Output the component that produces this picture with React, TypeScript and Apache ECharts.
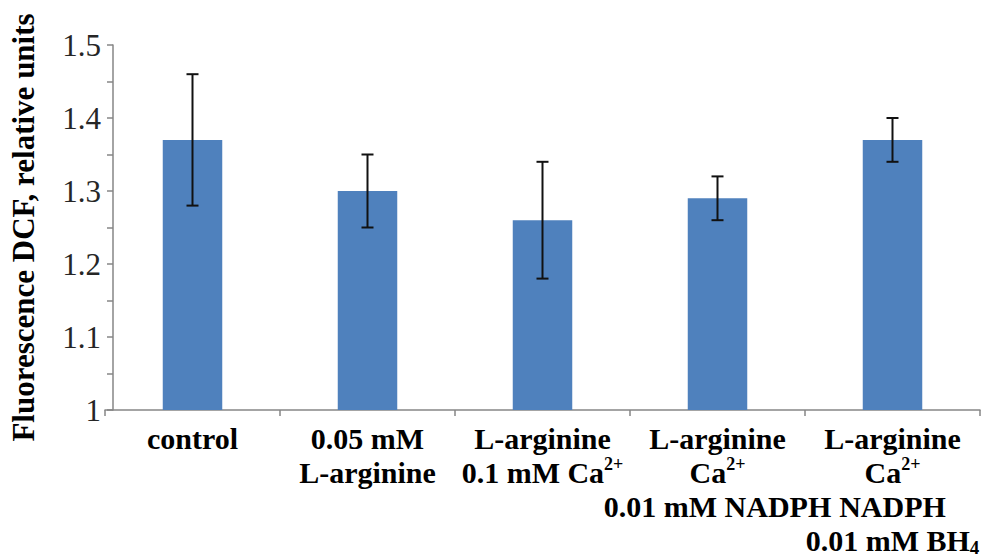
import React, { useEffect, useRef } from "react";
import * as echarts from "echarts";

const categories = [
  "control",
  "0.05 mM\nL-arginine",
  "L-arginine\n0.1 mM Ca2+",
  "L-arginine\nCa2+\n0.01 mM NADPH",
  "L-arginine\nCa2+\nNADPH\n0.01 mM BH4",
];
const values = [1.37, 1.3, 1.26, 1.29, 1.37];
const errorLow = [1.28, 1.25, 1.18, 1.26, 1.34];
const errorHigh = [1.46, 1.35, 1.34, 1.32, 1.4];
const yTicks = { min: 1, max: 1.5, interval: 0.05, labelEvery: 0.1 };
const yTitle = "Fluorescence DCF, relative units";

const FONT = "'Liberation Serif', 'Times New Roman', serif";

function formatLabel(v: string): string {
  return v
    .split("\n")
    .map((line) =>
      line
        .split(/(Ca2\+|BH4)/)
        .filter((p) => p.length > 0)
        .map((p) => {
          if (p === "Ca2+") return "{b|Ca}{sup|2+}";
          if (p === "BH4") return "{b|BH}{sub|4}";
          return "{b|" + p + "}";
        })
        .join("")
    )
    .join("\n");
}

export default function App() {
  const ref = useRef<HTMLDivElement>(null);
  useEffect(() => {
    if (!ref.current) return;
    const chart = echarts.init(ref.current, undefined, { renderer: "svg" });
    const axisColor = "#868686";
    chart.setOption({
      animation: false,
      backgroundColor: "#ffffff",
      grid: { left: 100, right: 10, top: 45, bottom: 147, containLabel: false },
      xAxis: {
        type: "category",
        data: categories,
        axisLine: { show: true, lineStyle: { color: axisColor, width: 1.5 } },
        axisTick: { show: true, length: 6, lineStyle: { color: axisColor, width: 1.5 } },
        axisLabel: {
          interval: 0,
          margin: 11,
          formatter: formatLabel,
          rich: {
            b: {
              fontFamily: FONT,
              fontSize: 30,
              fontWeight: "bold",
              color: "#000",
              lineHeight: 34,
            },
            sup: {
              fontFamily: FONT,
              fontSize: 18,
              fontWeight: "bold",
              color: "#000",
              lineHeight: 20,
              verticalAlign: "top",
            },
            sub: {
              fontFamily: FONT,
              fontSize: 19,
              fontWeight: "bold",
              color: "#000",
              lineHeight: 25,
              verticalAlign: "bottom",
            },
          },
        },
      },
      yAxis: {
        type: "value",
        min: yTicks.min,
        max: yTicks.max,
        interval: yTicks.interval,
        offset: -8,
        name: yTitle,
        nameLocation: "middle",
        nameRotate: 90,
        nameGap: 74,
        nameTextStyle: {
          fontFamily: FONT,
          fontSize: 31,
          fontWeight: "bold",
          color: "#000",
        },
        axisLine: { show: true, lineStyle: { color: axisColor, width: 1.5 } },
        axisTick: { show: true, length: 6, lineStyle: { color: axisColor, width: 1.5 } },
        splitLine: { show: false },
        axisLabel: {
          margin: 12,
          fontFamily: FONT,
          fontSize: 31,
          color: "#262626",
          formatter: (v: number) => {
            const k = Math.round(v * 100);
            const step = Math.round(yTicks.labelEvery * 100);
            return k % step === 0 ? String(Math.round(v * 10) / 10) : "";
          },
        },
      },
      series: [
        {
          type: "bar",
          data: values,
          barWidth: "34%",
          itemStyle: { color: "#4F81BD" },
        },
        {
          type: "custom",
          data: values.map((_, i) => [i, errorLow[i], errorHigh[i]]),
          renderItem: (params: any, api: any) => {
            const idx = api.value(0);
            const lo = api.coord([idx, api.value(1)]);
            const hi = api.coord([idx, api.value(2)]);
            const half = 6;
            const style = { stroke: "#111", lineWidth: 2 };
            return {
              type: "group",
              children: [
                { type: "line", shape: { x1: lo[0], y1: lo[1], x2: hi[0], y2: hi[1] }, style },
                { type: "line", shape: { x1: hi[0] - half, y1: hi[1], x2: hi[0] + half, y2: hi[1] }, style },
                { type: "line", shape: { x1: lo[0] - half, y1: lo[1], x2: lo[0] + half, y2: lo[1] }, style },
              ],
            };
          },
          z: 10,
        },
      ],
    });
    return () => chart.dispose();
  }, []);
  return <div ref={ref} style={{ width: 990, height: 557, position: "absolute", left: 0, top: 0 }} />;
}
